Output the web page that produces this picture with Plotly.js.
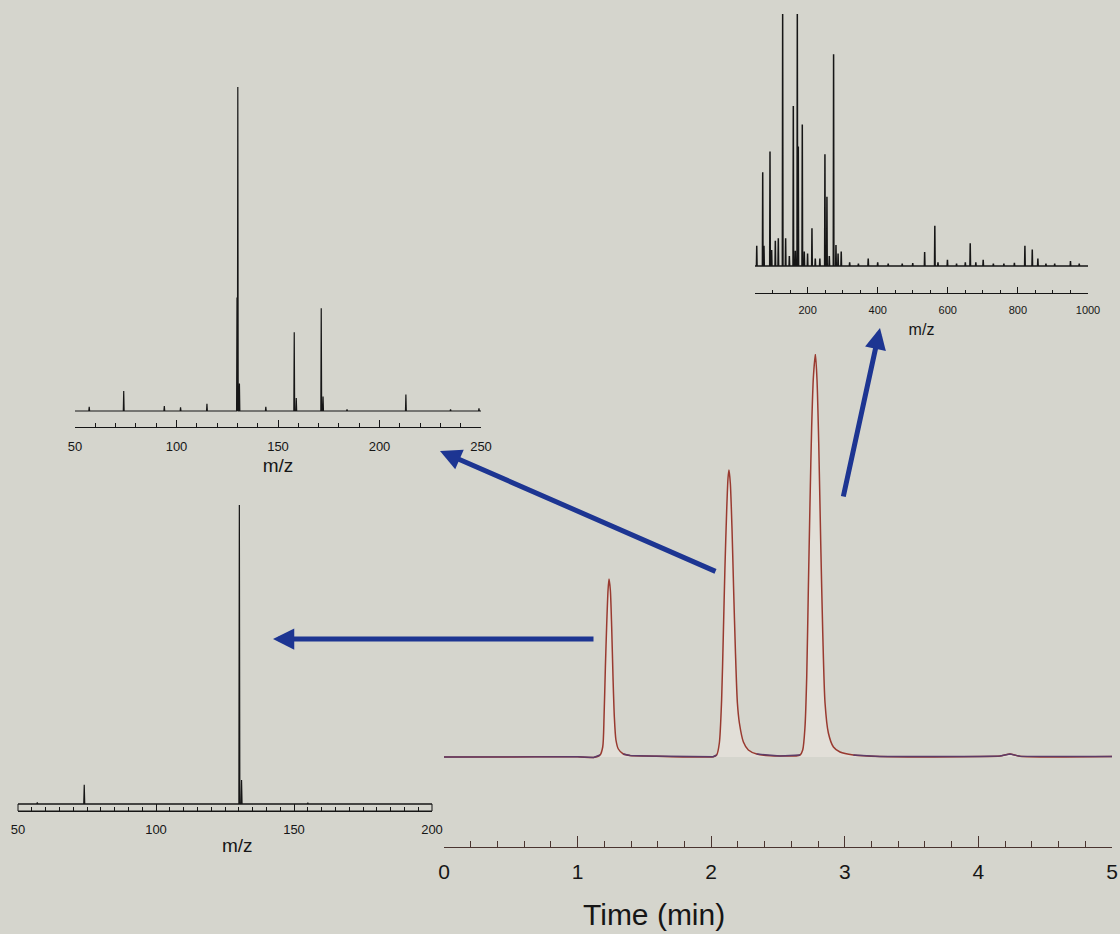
<!DOCTYPE html>
<html>
<head>
<meta charset="utf-8">
<script src="https://cdn.plot.ly/plotly-3.0.1.min.js"></script>
<style>
html,body{margin:0;padding:0;background:#d5d5cd;}
#chart{width:1120px;height:934px;}
</style>
</head>
<body>
<div id="chart"></div>
<script>
// ---------------- DATA ----------------
// Chromatogram (time in min, detector response in arbitrary units)
const chromTime = [0, 0.5, 1.0, 1.12, 1.168, 1.188, 1.198, 1.208, 1.218, 1.228, 1.235, 1.245, 1.255, 1.265, 1.275, 1.287, 1.305, 1.342, 1.392, 1.517,
  2.015, 2.041, 2.061, 2.078, 2.091, 2.103, 2.116, 2.126, 2.133, 2.143, 2.156, 2.168, 2.181, 2.196, 2.211, 2.241, 2.278, 2.341, 2.515,
  2.665, 2.685, 2.702, 2.715, 2.727, 2.740, 2.752, 2.765, 2.780, 2.792, 2.805, 2.820, 2.835, 2.852, 2.877, 2.915, 2.964, 3.064, 3.263,
  4.012, 4.162, 4.237, 4.311, 5.0];
const chromSignal = [0, 0, 0.3, -0.5, 2, 10, 40, 90, 133, 167, 178, 167, 130, 80, 40, 17, 8, 3, 1.5, 1,
  0.3, 2, 14, 57, 124, 190, 247, 279, 287, 274, 227, 167, 107, 54, 34, 15, 7, 3, 1,
  2, 7, 30, 80, 167, 257, 330, 380, 403, 377, 313, 213, 124, 54, 24, 10, 5, 2, 0.5,
  0.5, 1, 3, 0.7, 0.5];
const timeTicks = [0, 1, 2, 3, 4, 5];

// Mass spectrum of peak 1 (bottom left)
const ms1Mz = [57, 74, 130.2, 131, 155];
const ms1Int = [0.5, 6.4, 100, 8, 0.4];
const ms1Ticks = [50, 100, 150, 200];

// Mass spectrum of peak 2 (middle left)
const ms2Mz = [57, 74, 94, 102, 115, 129.8, 130.2, 131, 144, 158, 159, 171.3, 172.2, 184, 213, 235, 249];
const ms2Int = [1.3, 6.2, 1.5, 1.1, 2.2, 35, 100, 8.5, 1.3, 24.3, 4, 31.7, 4.5, 0.5, 5.1, 0.5, 0.8];
const ms2Ticks = [50, 100, 150, 200, 250];

// Mass spectrum of peak 3 (top right)
const ms3Mz = [55, 72, 75.6, 92.8, 97.5, 108, 116.5, 128.9, 137.4, 148, 159.3, 165, 170.7, 173.5, 184.9, 190.6, 200, 212.5, 222,
  235, 249.5, 255.2, 262, 274.2, 281, 287, 296, 320, 345, 373, 400, 430, 470, 500, 534, 563, 572, 599, 625, 650, 664, 680, 701,
  730, 760, 790, 820, 841, 857, 880, 905, 950, 975];
const ms3Int = [8, 37.2, 8, 45.4, 6.3, 10, 11, 100, 11, 4, 63.5, 6, 100, 47.4, 56.2, 5.7, 5, 15, 3,
  3, 44.3, 27.5, 4, 84, 8.3, 5, 5.7, 1.5, 1, 3, 1.5, 1, 1, 1.2, 5.5, 16, 1.5, 2.5, 1, 1.5, 9, 1.5, 2.5,
  1, 1, 1.3, 8, 6.5, 3, 1, 1, 2, 1];
const ms3Ticks = [200, 400, 600, 800, 1000];

// ---------------- HELPERS ----------------
const W = 1120, H = 934;
function yPlacement(axisPx, basePx, topPx, topVal) {
  const unit = (basePx - topPx) / topVal;
  const lower = -(axisPx - basePx) / unit;
  return { domain: [1 - axisPx / H, 1 - topPx / H], range: [lower, topVal] };
}
function sticks(mz, inten, half, lo, hi) {
  const idx = mz.map((m, i) => i).sort((a, b) => mz[a] - mz[b]);
  const xs = [lo], ys = [0];
  idx.forEach(i => { xs.push(mz[i] - half, mz[i], mz[i] + half); ys.push(0, inten[i], 0); });
  xs.push(hi); ys.push(0);
  return { x: xs, y: ys };
}

const ink = '#161616';
const fam = '"Liberation Sans", Arial, Helvetica, sans-serif';

const y1 = yPlacement(847, 757, 354, 403);
const y2 = yPlacement(293, 266, 14, 100);
const y3 = yPlacement(427, 411, 87, 100);
const y4 = yPlacement(811, 804, 505, 100);

const s1 = sticks(ms1Mz, ms1Int, 0.18, 50, 200);
const s2 = sticks(ms2Mz, ms2Int, 0.2, 50, 250);
const s3 = sticks(ms3Mz, ms3Int, 0.9, 50, 1000);

// flat (baseline) stretches of the chromatogram, drawn in the bluish baseline tone
const baseSignal = chromSignal.map(v => (v <= 3 ? v : null));

const traces = [
  { x: chromTime, y: chromSignal, xaxis: 'x', yaxis: 'y', type: 'scatter', mode: 'lines',
    line: { color: '#993a30', width: 1.5, shape: 'spline', smoothing: 0.7 },
    fill: 'tozeroy', fillcolor: 'rgba(236,232,226,0.55)', name: 'Chromatogram' },
  { x: chromTime, y: baseSignal, xaxis: 'x', yaxis: 'y', type: 'scatter', mode: 'lines',
    line: { color: '#5e3c68', width: 1.4 }, connectgaps: false, name: 'Baseline' },
  { x: s3.x, y: s3.y, xaxis: 'x2', yaxis: 'y2', type: 'scatter', mode: 'lines',
    line: { color: ink, width: 1.5 }, name: 'Peak 3 spectrum' },
  { x: s2.x, y: s2.y, xaxis: 'x3', yaxis: 'y3', type: 'scatter', mode: 'lines',
    line: { color: ink, width: 1.2 }, name: 'Peak 2 spectrum' },
  { x: s1.x, y: s1.y, xaxis: 'x4', yaxis: 'y4', type: 'scatter', mode: 'lines',
    line: { color: ink, width: 1.2 }, name: 'Peak 1 spectrum' }
];

function xAxis(domainPx, range, anchor, tickvals, minorDtick, majLen, minLen, fontSize, titleText, titleSize, lineColor, standoff, labelStandoff) {
  return {
    domain: [domainPx[0] / W, domainPx[1] / W], range: range, anchor: anchor,
    showgrid: false, zeroline: false, showline: true, linecolor: lineColor, linewidth: 1,
    ticks: 'inside', ticklen: majLen, tickwidth: 1, tickcolor: lineColor,
    tickmode: 'array', tickvals: tickvals, ticktext: tickvals.map(String),
    minor: { dtick: minorDtick, tick0: range[0], ticks: 'inside', ticklen: minLen, tickwidth: 1, tickcolor: lineColor, showgrid: false },
    tickfont: { family: fam, size: fontSize, color: ink },
    ticklabelstandoff: labelStandoff,
    title: { text: titleText, font: { family: fam, size: titleSize, color: ink }, standoff: standoff },
    fixedrange: true
  };
}
function yAxis(p) {
  return { domain: p.domain, range: p.range, visible: false, showgrid: false, zeroline: false, fixedrange: true };
}

const arrowColor = '#1d3592';
function arrow(tipPx, tailPx) {
  return { x: tipPx[0] / W, y: 1 - tipPx[1] / H, xref: 'paper', yref: 'paper', text: '',
    showarrow: true, ax: tailPx[0] - tipPx[0], ay: tailPx[1] - tipPx[1],
    arrowhead: 2, arrowsize: 0.85, arrowwidth: 5, arrowcolor: arrowColor, standoff: 0 };
}
function label(text, cxPx, cyPx, size) {
  return { x: cxPx / W, y: 1 - cyPx / H, xref: 'paper', yref: 'paper', text: text, showarrow: false,
    xanchor: 'center', yanchor: 'middle', font: { family: fam, size: size, color: ink } };
}

const layout = {
  width: W, height: H,
  margin: { l: 0, r: 0, t: 0, b: 0 },
  paper_bgcolor: '#d5d5cd', plot_bgcolor: 'rgba(0,0,0,0)',
  showlegend: false,
  xaxis: xAxis([444, 1112], [0, 5], 'y', timeTicks, 0.2, 11, 6, 21, '', 30, '#4a3430', 20, 6),
  yaxis: yAxis(y1),
  xaxis2: xAxis([755, 1088], [50, 1000], 'y2', ms3Ticks, 50, 6, 3, 11, 'm/z', 16, ink, 8, 7),
  yaxis2: yAxis(y2),
  xaxis3: xAxis([75, 481], [50, 250], 'y3', ms2Ticks, 10, 7, 4, 13, 'm/z', 19, ink, 6, 7),
  yaxis3: yAxis(y3),
  xaxis4: xAxis([18, 432], [50, 200], 'y4', ms1Ticks, 5, 7, 4, 13, '', 19, ink, 2, 6),
  yaxis4: yAxis(y4),
  shapes: [
    { type: 'rect', xref: 'x4 domain', yref: 'y4', x0: 0, x1: 1, y0: y4.range[0], y1: 0,
      line: { color: ink, width: 1 }, fillcolor: 'rgba(0,0,0,0)' }
  ],
  annotations: [
    arrow([273, 639], [595, 639]),
    arrow([440, 451], [717, 572]),
    arrow([880, 328], [843, 498]),
    label('Time (min)', 654, 914, 30),
    label('m/z', 237, 845, 19)
  ]
};

Plotly.newPlot('chart', traces, layout, { displayModeBar: false, staticPlot: true });
</script>
</body>
</html>
